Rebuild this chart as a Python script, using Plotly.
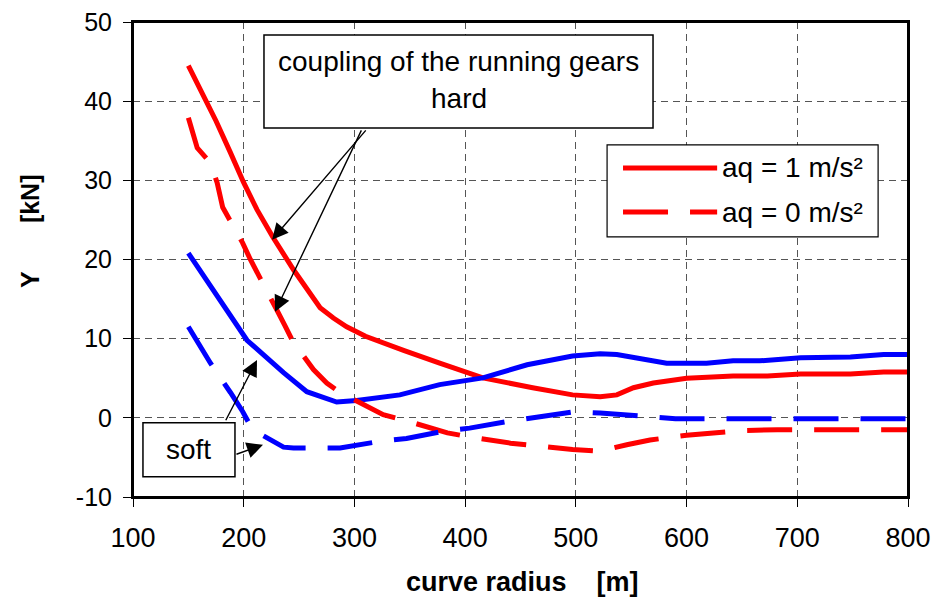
import plotly.graph_objects as go

# ---- data ----
hard_aq1_x = [150, 163, 175, 188, 200, 212, 226, 245, 257, 269, 281, 293, 310, 330, 345, 377, 416, 461, 497, 522, 537, 552, 570, 600, 642, 673, 703, 748, 778, 800]
hard_aq1_y = [44.5, 41.0, 37.5, 33.5, 29.7, 26.3, 22.9, 18.7, 16.2, 13.9, 12.6, 11.5, 10.3, 9.2, 8.5, 6.9, 5.05, 3.8, 2.9, 2.65, 2.9, 3.8, 4.4, 5.0, 5.3, 5.3, 5.55, 5.55, 5.8, 5.8]

soft_aq1_x = [150, 175, 203, 236, 257, 284, 302, 341, 377, 416, 456, 497, 522, 537, 552, 582, 618, 642, 666, 703, 748, 778, 800]
soft_aq1_y = [20.8, 15.5, 9.8, 5.7, 3.3, 2.0, 2.2, 2.9, 4.2, 5.05, 6.7, 7.8, 8.1, 8.0, 7.6, 6.9, 6.9, 7.2, 7.2, 7.6, 7.7, 8.0, 8.0]

hard_aq0_x = [150, 158, 170, 176, 181, 199, 206, 221, 230, 237, 245, 263, 275, 287, 326, 350, 384, 404, 441, 497, 522, 546, 567, 600, 627, 650, 682, 700, 800]
hard_aq0_y = [37.9, 34.1, 32.2, 29.7, 26.6, 22.1, 20.0, 16.2, 13.6, 11.7, 9.5, 6.1, 4.4, 3.2, 0.4, -0.5, -1.9, -2.4, -3.2, -4.0, -4.2, -3.4, -2.8, -2.2, -1.8, -1.6, -1.5, -1.5, -1.5]

soft_aq0_x = [150, 162, 170, 188, 199, 208, 221, 236, 245, 287, 326, 347, 384, 404, 441, 497, 522, 546, 567, 590, 800]
soft_aq0_y = [11.5, 8.6, 6.9, 3.2, 0.8, -1.5, -2.5, -3.7, -3.8, -3.8, -2.9, -2.6, -1.6, -1.3, -0.4, 0.75, 0.6, 0.35, 0.1, -0.1, -0.1]

x_ticks = [100, 200, 300, 400, 500, 600, 700, 800]
y_ticks = [-10, 0, 10, 20, 30, 40, 50]

legend_labels = ["aq = 1 m/s²", "aq = 0 m/s²"]
box_hard_lines = ["coupling of the running gears", "hard"]
box_soft_text = "soft"
x_title = "curve radius    [m]"
y_title = "Y       [kN]"

RED = "#FF0000"
BLUE = "#0000FF"
DASH = "45px,22px"
FONT = "Liberation Sans, Arial, sans-serif"

fig = go.Figure()
fig.add_trace(go.Scatter(x=hard_aq1_x, y=hard_aq1_y, mode="lines",
                         line=dict(color=RED, width=5), showlegend=False))
fig.add_trace(go.Scatter(x=soft_aq1_x, y=soft_aq1_y, mode="lines",
                         line=dict(color=BLUE, width=5), showlegend=False))
fig.add_trace(go.Scatter(x=hard_aq0_x, y=hard_aq0_y, mode="lines",
                         line=dict(color=RED, width=5, dash=DASH), showlegend=False))
fig.add_trace(go.Scatter(x=soft_aq0_x, y=soft_aq0_y, mode="lines",
                         line=dict(color=BLUE, width=5, dash=DASH), showlegend=False))

shapes = []
annotations = []

# plot frame
shapes.append(dict(type="rect", xref="paper", yref="paper", x0=0, x1=1, y0=0, y1=1,
                   line=dict(color="black", width=2), fillcolor="rgba(0,0,0,0)", layer="above"))

# annotation boxes
shapes.append(dict(type="rect", xref="x", yref="y", x0=218.3, x1=569.7, y0=36.6, y1=48.36,
                   line=dict(color="black", width=1.5), fillcolor="white", layer="above"))
shapes.append(dict(type="rect", xref="x", yref="y", x0=109.0, x1=192.1, y0=-7.45, y1=-0.63,
                   line=dict(color="black", width=1.5), fillcolor="white", layer="above"))
# legend box
shapes.append(dict(type="rect", xref="x", yref="y", x0=528.2, x1=773.0, y0=22.85, y1=34.47,
                   line=dict(color="black", width=1.2), fillcolor="white", layer="above"))
shapes.append(dict(type="line", xref="x", yref="y", x0=542.6, x1=627.6, y0=31.57, y1=31.57,
                   line=dict(color=RED, width=5), layer="above"))
shapes.append(dict(type="line", xref="x", yref="y", x0=542.6, x1=627.6, y0=26.0, y1=26.0,
                   line=dict(color=RED, width=5, dash=DASH), layer="above"))

TXT = dict(family=FONT, size=28, color="black")
annotations.append(dict(x=630.3, y=31.57, xref="x", yref="y", text=legend_labels[0], showarrow=False,
                        xanchor="left", yanchor="middle", font=TXT))
annotations.append(dict(x=630.3, y=26.0, xref="x", yref="y", text=legend_labels[1], showarrow=False,
                        xanchor="left", yanchor="middle", font=TXT))
annotations.append(dict(x=394, y=44.95, xref="x", yref="y", text=box_hard_lines[0], showarrow=False,
                        xanchor="center", yanchor="middle", font=TXT))
annotations.append(dict(x=394, y=40.4, xref="x", yref="y", text=box_hard_lines[1], showarrow=False,
                        xanchor="center", yanchor="middle", font=TXT))
annotations.append(dict(x=150.5, y=-4.05, xref="x", yref="y", text=box_soft_text, showarrow=False,
                        xanchor="center", yanchor="middle", font=TXT))

# axis titles
annotations.append(dict(x=0.502, y=-0.179, xref="paper", yref="paper", text="<b>" + x_title + "</b>",
                        showarrow=False, xanchor="center", yanchor="middle",
                        font=dict(family=FONT, size=27, color="black")))
annotations.append(dict(x=-0.1329, y=0.558, xref="paper", yref="paper", text="<b>" + y_title + "</b>",
                        showarrow=False, xanchor="center", yanchor="middle", textangle=-90,
                        font=dict(family=FONT, size=25, color="black")))

# arrows (tip = x,y ; tail = ax,ay)
arrows = [
    (225.6, 22.5, 311.4, 36.5),
    (228.3, 13.4, 306.9, 36.5),
    (212.0, 7.3, 183.1, -0.5),
    (217.4, -3.4, 192.1, -4.67),
]
for tx, ty, sx, sy in arrows:
    annotations.append(dict(x=tx, y=ty, ax=sx, ay=sy, xref="x", yref="y", axref="x", ayref="y",
                            text="", showarrow=True, arrowhead=2, arrowsize=2.3, arrowwidth=1.4,
                            arrowcolor="black", standoff=0, startstandoff=0))

fig.update_layout(
    width=944, height=590,
    margin=dict(l=125, r=44, t=14, b=101, autoexpand=False),
    paper_bgcolor="white", plot_bgcolor="white",
    font=dict(family=FONT, size=24, color="black"),
    shapes=shapes, annotations=annotations,
    showlegend=False,
)
fig.update_xaxes(range=[100, 800], tickvals=x_ticks, ticktext=[str(v) for v in x_ticks],
                 showline=True, linecolor="black", linewidth=2, mirror=True,
                 ticks="outside", ticklen=8, tickcolor="black", tickwidth=1,
                 showgrid=True, gridcolor="#555555", gridwidth=1, griddash="7px,5px",
                 zeroline=False, tickfont=dict(size=27), ticklabelstandoff=8,
                 ticklabeloverflow="allow", automargin=False)
fig.update_yaxes(range=[-10, 50], tickvals=y_ticks, ticktext=[str(v) for v in y_ticks],
                 showline=True, linecolor="black", linewidth=2, mirror=True,
                 ticks="outside", ticklen=8, tickcolor="black", tickwidth=1,
                 showgrid=True, gridcolor="#555555", gridwidth=1, griddash="7px,5px",
                 zeroline=False, tickfont=dict(size=25), ticklabelstandoff=6,
                 ticklabeloverflow="allow", automargin=False)

fig.write_html("out.html")
